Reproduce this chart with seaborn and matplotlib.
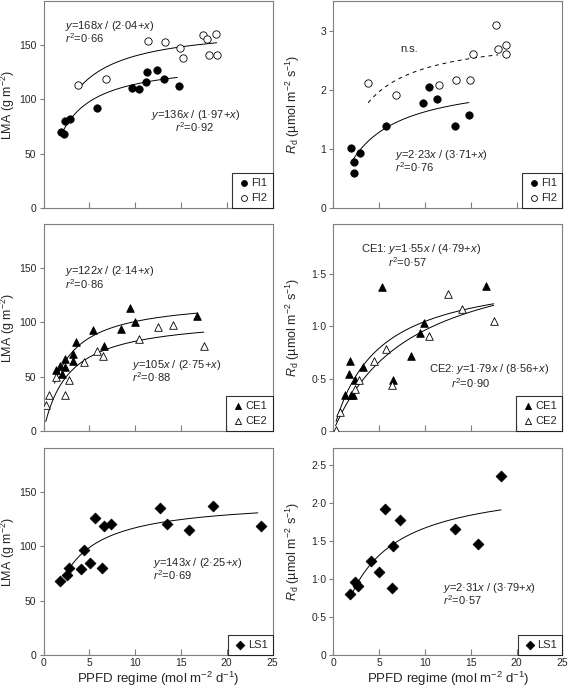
import numpy as np
import pandas as pd
import matplotlib
matplotlib.use("Agg")
import matplotlib.pyplot as plt
import seaborn as sns

sns.set_style("ticks")
plt.rcParams['font.family'] = ['Liberation Sans', 'DejaVu Sans']
plt.rcParams['mathtext.fontset'] = 'custom'
plt.rcParams['mathtext.rm'] = 'Liberation Sans'
plt.rcParams['mathtext.it'] = 'Liberation Sans:italic'
plt.rcParams['mathtext.bf'] = 'Liberation Sans:bold'

# ---------------- data ----------------
# Top row: FI1 / FI2
fi1_lma_x = [1.9, 2.2, 2.3, 2.9, 5.8, 9.7, 10.4, 11.2, 11.3, 12.4, 13.2, 14.8]
fi1_lma_y = [70, 68, 80, 82, 92, 110, 109, 116, 125, 127, 118, 112]
fi2_lma_x = [3.8, 6.8, 11.4, 13.3, 14.9, 15.2, 17.4, 17.8, 18.1, 18.8, 18.9]
fi2_lma_y = [113, 118, 153, 152, 147, 138, 159, 155, 140, 160, 140]

fi1_rd_x = [1.9, 2.25, 2.25, 2.9, 5.7, 9.75, 10.45, 11.3, 13.25, 14.8]
fi1_rd_y = [1.01, 0.78, 0.59, 0.93, 1.38, 1.78, 2.04, 1.84, 1.38, 1.58]
fi2_rd_x = [3.8, 6.8, 11.5, 13.4, 14.9, 15.2, 17.8, 18.0, 18.8, 18.8]
fi2_rd_y = [2.12, 1.91, 2.08, 2.17, 2.17, 2.60, 3.10, 2.68, 2.76, 2.61]

# Middle row: CE1 / CE2
ce1_lma_x = [1.36, 1.8, 1.98, 2.4, 2.4, 3.2, 3.25, 3.6, 5.4, 6.65, 8.45, 9.45, 9.95, 16.8]
ce1_lma_y = [56, 60, 52, 66.5, 59, 71, 64.5, 82, 93, 78, 94, 113, 100, 105.5]
ce2_lma_x = [0.25, 0.6, 1.4, 2.35, 2.8, 4.4, 5.8, 6.45, 10.45, 12.5, 14.1, 17.5]
ce2_lma_y = [24, 33, 50, 33, 47, 63.5, 73.5, 68.5, 84, 95.5, 97, 78]

ce1_rd_x = [1.3, 1.75, 1.85, 1.95, 2.2, 2.4, 3.2, 5.35, 6.55, 8.45, 9.45, 9.9, 16.7]
ce1_rd_y = [0.34, 0.545, 0.67, 0.34, 0.34, 0.49, 0.61, 1.38, 0.49, 0.72, 0.94, 1.03, 1.39]
ce2_rd_x = [0.26, 0.75, 2.4, 2.8, 4.4, 5.8, 6.45, 10.45, 12.5, 14.1, 17.5]
ce2_rd_y = [0.01, 0.18, 0.40, 0.49, 0.67, 0.785, 0.44, 0.91, 1.31, 1.17, 1.05]

# Bottom row: LS1
ls1_lma_x = [1.8, 2.55, 2.8, 4.1, 4.4, 5.05, 5.65, 6.4, 6.65, 7.35, 12.75, 13.5, 15.9, 18.5, 23.7]
ls1_lma_y = [68, 73, 80, 78.5, 96, 84, 126, 80, 118.5, 120, 135, 120.5, 114.5, 136.5, 118.5]
ls1_rd_x = [1.85, 2.4, 2.75, 4.1, 5.0, 5.6, 6.4, 6.55, 7.3, 13.3, 15.8, 18.35]
ls1_rd_y = [0.80, 0.96, 0.91, 1.24, 1.10, 1.92, 0.88, 1.44, 1.78, 1.66, 1.46, 2.36]

# Fitted hyperbola parameters: (a, b, x_start, x_end)
fit_fi1_lma = (136, 1.97, 1.9, 14.6)
fit_fi2_lma = (168, 2.04, 3.8, 18.9)
fit_fi1_rd = (2.23, 3.71, 1.9, 14.8)
fit_fi2_rd = (2.95, 2.5, 3.8, 18.0)   # n.s. (dashed)
fit_ce1_lma = (122, 2.14, 1.2, 16.8)
fit_ce2_lma = (105, 2.75, 0.25, 17.5)
fit_ce1_rd = (1.55, 4.79, 0.3, 17.5)
fit_ce2_rd = (1.79, 8.56, 0.25, 17.5)
fit_ls1_lma = (143, 2.25, 2.6, 23.4)
fit_ls1_rd = (2.31, 3.79, 2.0, 18.3)

x_ticks = [0, 5, 10, 15, 20, 25]
lma_ticks = [0, 50, 100, 150]
rd_top_ticks = [0, 1, 2, 3]
rd_mid_ticks = [0, 0.5, 1.0, 1.5]
rd_bot_ticks = [0, 0.5, 1.0, 1.5, 2.0, 2.5]

# ---------------- figure ----------------
W, H = 569, 687
fig = plt.figure(figsize=(W / 100, H / 100), dpi=100)

def axpos(x0, top, bottom, width=229):
    return [x0 / W, 1 - bottom / H, width / W, (bottom - top) / H]

lefts = [43.5, 333.3]
rows = [(1, 208), (224, 431), (448, 655)]
axes = [[fig.add_axes(axpos(lefts[c], rows[r][0], rows[r][1])) for c in range(2)] for r in range(3)]

FS_T = 7.5   # ticks
FS_A = 8     # annotations / legend
FS_L = 9     # axis labels
SPC = '#7f7f7f'

def style(ax, ylim, yticks, ylabels, bottom_row):
    ax.set_xlim(0, 25)
    ax.set_ylim(*ylim)
    ax.set_xticks(x_ticks)
    ax.set_yticks(yticks)
    ax.set_yticklabels(ylabels, fontsize=FS_T)
    if bottom_row:
        ax.set_xticklabels([str(t) for t in x_ticks], fontsize=FS_T)
    else:
        ax.set_xticklabels([])
    ax.tick_params(axis='x', direction='in', length=4, width=0.8, color=SPC, pad=2)
    ax.tick_params(axis='y', direction='out', length=3, width=0.8, color=SPC, pad=2)
    for s in ax.spines.values():
        s.set_visible(True)
        s.set_color(SPC)
        s.set_linewidth(0.8)

def pts(ax, x, y, marker, filled, label, size):
    sns.scatterplot(x=x, y=y, ax=ax, marker=marker, s=size,
                    color='black' if filled else 'white',
                    edgecolor='black', linewidth=0.6, label=label, zorder=3)

def curve(ax, p, dashed=False):
    a, b, x0, x1 = p
    xs = np.linspace(x0, x1, 200)
    ys = a * xs / (b + xs)
    sns.lineplot(x=xs, y=ys, ax=ax, color='black', linewidth=0.7,
                 linestyle=(0, (4, 4)) if dashed else '-', zorder=2)

def leg(ax):
    lg = ax.legend(loc='lower right', fontsize=FS_A, frameon=True, fancybox=False,
                   borderaxespad=0, handletextpad=0.1, borderpad=0.45,
                   labelspacing=0.45, handlelength=1.2, markerscale=0.8)
    lg.get_frame().set_edgecolor('black')
    lg.get_frame().set_linewidth(0.8)

def eq(ax, x, y, a, b, prefix=''):
    ax.text(x, y, prefix + r'$\mathit{y}$=' + a + r'$\mathit{x}$ / (' + b + r'+$\mathit{x}$)',
            fontsize=FS_A, va='center', ha='left')

def r2(ax, x, y, v):
    ax.text(x, y, r'$\mathit{r}^{2}$=' + v, fontsize=FS_A, va='center', ha='left')

lma_label = r'LMA (g m$^{-2}$)'
rd_label = r'$\mathit{R}_{\mathrm{d}}$ (µmol m$^{-2}$ s$^{-1}$)'
x_label = r'PPFD regime (mol m$^{-2}$ d$^{-1}$)'

# ---- top-left
ax = axes[0][0]
curve(ax, fit_fi1_lma); curve(ax, fit_fi2_lma)
pts(ax, fi1_lma_x, fi1_lma_y, 'o', True, 'FI1', 28)
pts(ax, fi2_lma_x, fi2_lma_y, 'o', False, 'FI2', 28)
style(ax, (0, 190), lma_ticks, ['0', '50', '100', '150'], False)
eq(ax, 2.3, 167.5, '168', '2·04'); r2(ax, 2.3, 155.5, '0·66')
eq(ax, 11.7, 85.5, '136', '1·97'); r2(ax, 14.4, 74, '0·92')
leg(ax)

# ---- top-right
ax = axes[0][1]
curve(ax, fit_fi1_rd); curve(ax, fit_fi2_rd, dashed=True)
pts(ax, fi1_rd_x, fi1_rd_y, 'o', True, 'FI1', 28)
pts(ax, fi2_rd_x, fi2_rd_y, 'o', False, 'FI2', 28)
style(ax, (0, 3.5), rd_top_ticks, ['0', '1', '2', '3'], False)
ax.text(7.3, 2.69, 'n.s.', fontsize=FS_A, va='center', ha='left')
eq(ax, 6.75, 0.895, '2·23', '3·71'); r2(ax, 6.75, 0.685, '0·76')
leg(ax)

# ---- middle-left
ax = axes[1][0]
curve(ax, fit_ce1_lma); curve(ax, fit_ce2_lma)
pts(ax, ce1_lma_x, ce1_lma_y, '^', True, 'CE1', 30)
pts(ax, ce2_lma_x, ce2_lma_y, '^', False, 'CE2', 30)
style(ax, (0, 190), lma_ticks, ['0', '50', '100', '150'], False)
eq(ax, 2.4, 146.5, '122', '2·14'); r2(ax, 2.4, 135, '0·86')
eq(ax, 9.65, 61, '105', '2·75'); r2(ax, 9.65, 49.5, '0·88')
leg(ax)

# ---- middle-right
ax = axes[1][1]
curve(ax, fit_ce1_rd); curve(ax, fit_ce2_rd)
pts(ax, ce1_rd_x, ce1_rd_y, '^', True, 'CE1', 30)
pts(ax, ce2_rd_x, ce2_rd_y, '^', False, 'CE2', 30)
style(ax, (0, 1.98), rd_mid_ticks, ['0', '0·5', '1·0', '1·5'], False)
eq(ax, 3.0, 1.745, '1·55', '4·79', prefix='CE1: '); r2(ax, 6.0, 1.62, '0·57')
eq(ax, 10.45, 0.59, '1·79', '8·56', prefix='CE2: '); r2(ax, 12.8, 0.46, '0·90')
leg(ax)

# ---- bottom-left
ax = axes[2][0]
curve(ax, fit_ls1_lma)
pts(ax, ls1_lma_x, ls1_lma_y, 'D', True, 'LS1', 30)
style(ax, (0, 190), lma_ticks, ['0', '50', '100', '150'], True)
eq(ax, 11.95, 84.5, '143', '2·25'); r2(ax, 11.95, 73, '0·69')
leg(ax)

# ---- bottom-right
ax = axes[2][1]
curve(ax, fit_ls1_rd)
pts(ax, ls1_rd_x, ls1_rd_y, 'D', True, 'LS1', 30)
style(ax, (0, 2.73), rd_bot_ticks, ['0', '0·5', '1·0', '1·5', '2·0', '2·5'], True)
eq(ax, 12.0, 0.885, '2·31', '3·79'); r2(ax, 12.0, 0.72, '0·57')
leg(ax)

for r in range(3):
    a0, a1 = axes[r]
    a0.set_ylabel(lma_label, fontsize=FS_L)
    a0.yaxis.set_label_coords(-0.115, 0.5)
    a1.set_ylabel(rd_label, fontsize=FS_L)
    a1.yaxis.set_label_coords(-0.135, 0.5)
    for a in (a0, a1):
        a.set_xlabel(x_label if r == 2 else '', fontsize=9.5)
        a.xaxis.set_label_coords(0.5, -0.072)

fig.savefig('out.png', dpi=100)
